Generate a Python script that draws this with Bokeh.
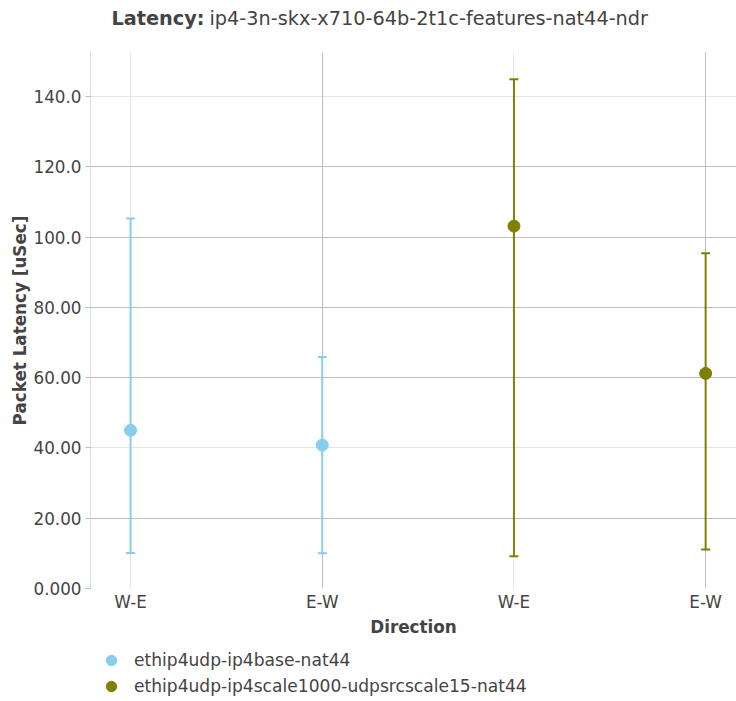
from bokeh.plotting import figure
from bokeh.layouts import column
from bokeh.models import (ColumnDataSource, Whisker, TeeHead, FixedTicker, Grid,
                          Legend, LegendItem, Label, Range1d)
from bokeh.embed import file_html
from bokeh.resources import INLINE

# ---- data ----
directions = ["W-E", "E-W"]
series_names = ["ethip4udp-ip4base-nat44", "ethip4udp-ip4scale1000-udpsrcscale15-nat44"]
base_avg = [45.0, 40.8]
base_min = [10.1, 10.0]
base_max = [105.3, 65.9]
scale_avg = [103.1, 61.2]
scale_min = [9.2, 11.1]
scale_max = [144.9, 95.4]
y_ticks = [0, 20, 40, 60, 80, 100, 120, 140]
y_tick_labels = ["0.000", "20.00", "40.00", "60.00", "80.00", "100.0", "120.0", "140.0"]
title_bold = "Latency:"
title_rest = "ip4-3n-skx-x710-64b-2t1c-features-nat44-ndr"
x_title = "Direction"
y_title = "Packet Latency [uSec]"
colors = ["#87CEEB", "#808000"]

FONT = "DejaVu Sans"
TXT = "#444444"

all_series = [(base_avg, base_min, base_max), (scale_avg, scale_min, scale_max)]
n_cat = len(directions) * len(all_series)

p = figure(frame_width=646, frame_height=536, output_backend="svg", toolbar_location=None,
           x_range=Range1d(-0.209, n_cat - 1 + 0.161), y_range=Range1d(0, 152.5),
           min_border_left=90, min_border_right=0, min_border_top=52, min_border_bottom=0)
p.outline_line_color = None
p.background_fill_color = "white"
p.border_fill_color = "white"

# grids
light = "#e5e5e5"
dark = "#bdbdbd"
p.ygrid.ticker = FixedTicker(ticks=y_ticks)
p.ygrid.grid_line_color = light
p.xgrid.ticker = FixedTicker(ticks=list(range(n_cat)))
p.xgrid.grid_line_color = light
dark_y = [20, 60, 80, 100, 120]
dark_x = [1, 3]
p.add_layout(Grid(dimension=1, ticker=FixedTicker(ticks=dark_y), grid_line_color=dark))
p.add_layout(Grid(dimension=0, ticker=FixedTicker(ticks=dark_x), grid_line_color=dark))

# axes
p.yaxis.ticker = FixedTicker(ticks=y_ticks)
p.yaxis.major_label_overrides = {t: l for t, l in zip(y_ticks, y_tick_labels)}
p.yaxis.axis_label = y_title
p.yaxis.axis_line_color = "#dddddd"
p.yaxis.major_tick_line_color = "#bbbbbb"
p.yaxis.major_tick_out = 5
p.yaxis.major_tick_in = 0
p.yaxis.minor_tick_line_color = None
p.yaxis.major_label_standoff = 4
p.yaxis.axis_label_standoff = 0

labels_x = [d for _ in all_series for d in directions]
p.xaxis.ticker = FixedTicker(ticks=list(range(n_cat)))
p.xaxis.major_label_overrides = {i: l for i, l in enumerate(labels_x)}
p.xaxis.axis_label = x_title
p.xaxis.axis_line_color = None
p.xaxis.major_tick_line_color = None
p.xaxis.minor_tick_line_color = None
p.xaxis.major_tick_out = 0
p.xaxis.major_label_standoff = 3
p.xaxis.axis_label_standoff = 2

for ax in (p.xaxis[0], p.yaxis[0]):
    ax.major_label_text_font = FONT
    ax.major_label_text_font_size = "16.8px"
    ax.major_label_text_color = TXT
    ax.axis_label_text_font = FONT
    ax.axis_label_text_font_size = "16.8px"
    ax.axis_label_text_font_style = "bold"
    ax.axis_label_text_color = TXT

# legend panel (separate small figure below the chart)
p2 = figure(width=736, height=71, output_backend="svg", toolbar_location=None,
            x_axis_type=None, y_axis_type=None,
            min_border_left=90, min_border_right=0, min_border_top=0, min_border_bottom=0)
p2.outline_line_color = None
p2.background_fill_color = "white"
p2.border_fill_color = "white"

items = []
idx = 0
for name, color, (avg, lo, hi) in zip(series_names, colors, all_series):
    xs = [idx + i for i in range(len(avg))]
    idx += len(avg)
    src = ColumnDataSource(dict(x=xs, avg=avg, lo=lo, hi=hi))
    w = Whisker(source=src, base="x", lower="lo", upper="hi", dimension="height",
                line_color=color, line_width=2,
                lower_head=TeeHead(size=9, line_color=color, line_width=2),
                upper_head=TeeHead(size=9, line_color=color, line_width=2))
    p.add_layout(w)
    p.scatter("x", "avg", source=src, size=12, color=color, line_color=color)
    key = p2.scatter("x", "avg", source=src, size=12, color=color, line_color=color,
                     visible=False)
    items.append(LegendItem(label=name, renderers=[key]))

legend = Legend(items=items, location="top_left", orientation="vertical",
                border_line_color=None, background_fill_alpha=0,
                inactive_fill_alpha=0,
                label_text_font=FONT, label_text_font_size="17.1px", label_text_color=TXT,
                glyph_width=26, glyph_height=26, label_height=26, spacing=0,
                padding=9, margin=8, label_standoff=10)
p2.add_layout(legend, "center")

# title in two parts
p.add_layout(Label(x=114, y=34, x_units="screen", y_units="screen", text=title_bold,
                   text_font=FONT, text_font_size="19.3px", text_font_style="bold",
                   text_color=TXT, text_align="right", text_baseline="middle"), "above")
p.add_layout(Label(x=119, y=11, x_units="screen", y_units="screen", text=title_rest,
                   text_font=FONT, text_font_size="19.3px", text_color=TXT,
                   text_align="left", text_baseline="middle"), "above")

open("out.html", "w").write(file_html(column(p, p2, spacing=0), INLINE))
